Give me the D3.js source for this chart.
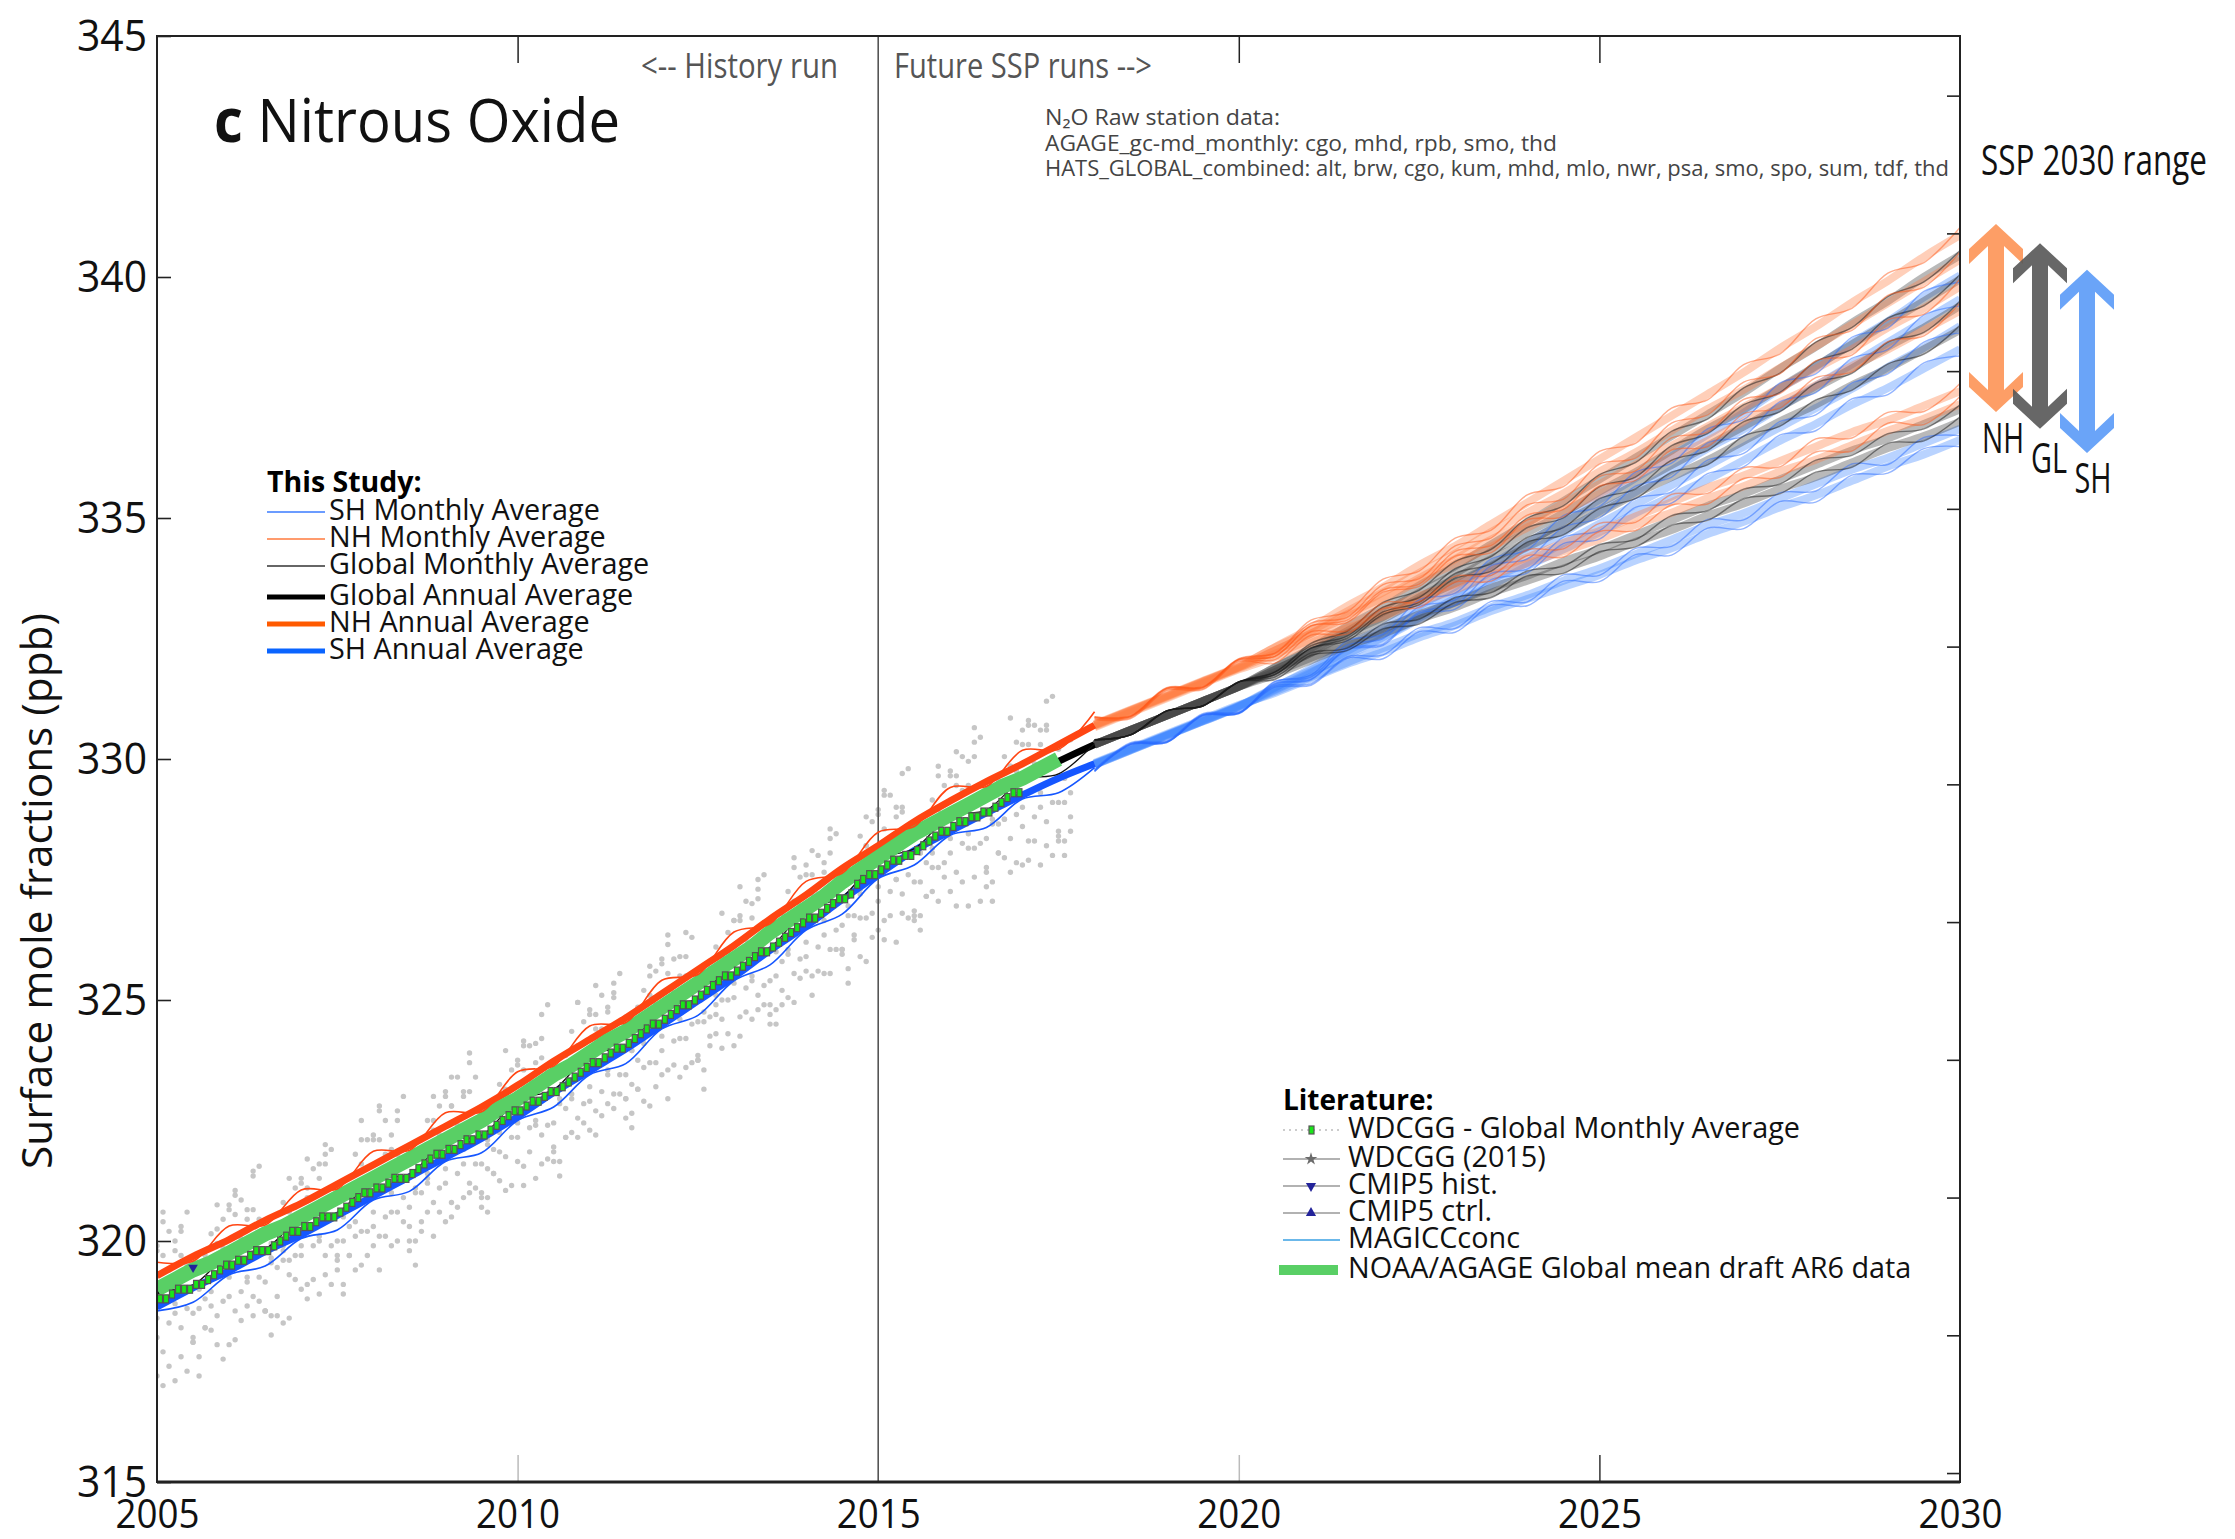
<!DOCTYPE html>
<html>
<head>
<meta charset="utf-8">
<script src="https://cdnjs.cloudflare.com/ajax/libs/d3/7.8.5/d3.min.js"></script>
<style>
  body { margin: 0; background: #fff; }
  svg text { font-family: "Open Sans", Lato, sans-serif; }
</style>
</head>
<body>
<svg id="chart" width="2235" height="1539"></svg>
<script>
// ---- axes
var xTickYears = [2005, 2010, 2015, 2020, 2025, 2030]
var yTickValues = [315, 320, 325, 330, 335, 340, 345]
var innerXTicks = [2010, 2020, 2025]
var rightTicks = [0, 1, 2, 3, 4, 5, 6, 7, 8, 9, 10]

// ---- NOAA/AGAGE global mean (green band), quarterly from 2005.0
var noaaStart = 2005, noaaStep = 0.25
var noaaGlobal = [
  319.0, 319.2, 319.4, 319.55,  319.75, 319.95, 320.15, 320.3,
  320.5, 320.7, 320.9, 321.1,   321.3, 321.5, 321.7, 321.9,
  322.1, 322.3, 322.5, 322.75,  322.95, 323.2, 323.45, 323.65,
  323.9, 324.15, 324.35, 324.6, 324.85, 325.1, 325.35, 325.6,
  325.85, 326.1, 326.4, 326.65, 326.9, 327.15, 327.45, 327.7,
  327.95, 328.2, 328.45, 328.65, 328.85, 329.05, 329.25, 329.45,
  329.6, 329.8, 330.0
]

// ---- raw station data, deviation from the global mean (tenths of ppb), one value per quarter
var stationDev = {
  alt: [9,8,2,6, 10,7,1,5, 8,9,2,7, 9,7,0,6, 10,8,2,5, 8,9,1,7, 9,7,3,6, 10,8,1,5, 8,9,2,6, 9,7,0,7, 10,8,2,5, 9,9,1,6, 10,8,2],
  brw: [7,10,-3,4, 8,7,-2,3, 6,9,-4,5, 8,10,-3,4, 7,8,-5,3, 6,10,-3,4, 8,9,-4,5, 7,8,-2,3, 8,10,-4,4, 7,9,-3,5, 6,8,-4,3, 8,10,-3,4, 7,9,-4],
  mhd: [12,14,3,9, 11,16,4,8, 10,12,2,10, 12,15,4,9, 13,11,3,8, 11,17,4,9, 12,14,5,10, 10,12,3,8, 12,15,4,9, 11,13,2,10, 13,16,4,8, 12,14,3,9, 11,15,4],
  thd: [8,6,-14,-3, 9,5,-16,-4, 7,6,-12,-3, 8,4,-17,-5, 9,7,-15,-4, 7,5,-18,-3, 8,6,-14,-4, 9,4,-16,-5, 8,6,-17,-3, 7,5,-15,-4, 9,6,-18,-5, 8,4,-16,-4, 7,5,-17],
  nwr: [16,5,-8,7, 12,14,-6,-7, 4,11,-9,10, 14,3,-7,6, 7,16,-10,4, 11,6,-6,13, 5,10,-11,9, 15,4,-8,-6, 9,12,-9,11, 3,14,-7,5, 13,7,-10,10, 6,16,-6,4, 11,8,-9],
  mlo: [4,3,-6,3, 3,5,-7,4, 4,2,-6,2, 5,4,-7,3, 3,4,-6,4, 4,3,-7,2, 5,4,-6,3, 3,2,-7,4, 4,5,-6,3, 3,4,-7,2, 4,3,-6,4, 5,4,-6,3, 3,4,-7],
  kum: [-6,-5,-9,-6, -5,-7,-10,-5, -6,-6,-9,-7, -7,-5,-10,-6, -6,-4,-9,-5, -5,-7,-10,-6, -7,-6,-9,-5, -6,-5,-8,-7, -5,-6,-10,-6, -7,-5,-9,-5, -6,-7,-10,-6, -5,-6,-9,-7, -6,-5,-9],
  sum: [14,11,-4,12, 13,15,-5,10, 12,13,-3,14, 15,12,-6,11, 13,14,-4,12, 12,15,-5,13, 14,12,-4,11, 13,13,-6,12, 15,14,-3,13, 12,12,-5,11, 14,15,-4,12, 13,13,-5,14, 12,14,-4],
  rpb: [-7,-6,-12,-8, -8,-7,-13,-6, -6,-8,-12,-9, -8,-6,-13,-8, -7,-7,-11,-6, -6,-8,-13,-8, -8,-7,-12,-9, -7,-6,-13,-6, -6,-8,-12,-8, -8,-7,-11,-9, -7,-6,-13,-8, -6,-8,-12,-6, -8,-7,-12],
  smo: [-10,-7,-15,-9, -9,-8,-16,-7, -8,-7,-15,-10, -10,-9,-14,-7, -9,-7,-16,-9, -8,-8,-15,-7, -10,-7,-14,-10, -9,-9,-16,-9, -8,-7,-15,-7, -10,-8,-14,-10, -9,-7,-16,-9, -8,-9,-15,-7, -10,-8,-15],
  cgo: [-13,-10,-18,-11, -12,-11,-17,-10, -14,-10,-18,-9, -12,-9,-17,-11, -13,-11,-16,-10, -14,-10,-18,-11, -12,-11,-17,-9, -13,-9,-18,-10, -12,-10,-16,-11, -14,-11,-18,-10, -13,-10,-17,-9, -12,-9,-18,-11, -13,-11,-17],
  spo: [-16,-19,-12,-20, -14,-12,-17,-11, -13,-16,-12,-14, -12,-11,-15,-13, -14,-12,-11,-16, -11,-15,-13,-12, -13,-11,-12,-14, -12,-14,-11,-13, -11,-12,-15,-12, -13,-11,-12,-14, -12,-15,-13,-11, -14,-20,-12,-16, -13,-18,-15],
  tdf: [-18,-21,-15,-14, -19,-13,-16,-20, -15,-18,-13,-17, -14,-16,-19,-13, -17,-14,-18,-15, -13,-19,-16,-14, -16,-13,-18,-17, -14,-17,-15,-13, -18,-15,-19,-16, -13,-16,-14,-18, -15,-20,-17,-14, -16,-21,-19,-15, -18,-20,-16],
  psa: [-20,-16,-22,-17, -18,-15,-21,-19, -17,-14,-20,-16, -19,-15,-22,-18, -16,-13,-19,-17, -18,-16,-21,-15, -17,-14,-20,-18, -19,-15,-22,-16, -16,-13,-19,-17, -18,-16,-21,-19, -17,-14,-20,-16, -19,-15,-22,-18, -17,-16,-20]
}
// month within each quarter at which a station is sampled
var stationMonth = {alt: 0, brw: 1, mhd: 2, thd: 0, nwr: 1, mlo: 2, kum: 0, sum: 1, rpb: 2, smo: 0, cgo: 1, spo: 2, tdf: 0, psa: 1}

// ---- WDCGG global monthly average, monthly from Jan 2005
var wdcggStart = 2005, wdcggStep = 1 / 12
var wdcggMonthly = [
  318.8, 318.8, 318.9, 319.0, 319.0, 319.0, 319.1, 319.1, 319.2, 319.3, 319.4, 319.5,
  319.5, 319.6, 319.6, 319.7, 319.8, 319.8, 319.8, 319.9, 320.0, 320.1, 320.2, 320.2,
  320.3, 320.3, 320.4, 320.5, 320.5, 320.5, 320.6, 320.7, 320.8, 320.9, 321.0, 321.0,
  321.1, 321.1, 321.2, 321.3, 321.3, 321.3, 321.4, 321.5, 321.6, 321.7, 321.8, 321.8,
  321.9, 321.9, 322.0, 322.1, 322.1, 322.2, 322.2, 322.3, 322.4, 322.5, 322.6, 322.7,
  322.7, 322.8, 322.9, 322.9, 323.0, 323.1, 323.1, 323.2, 323.3, 323.4, 323.5, 323.6,
  323.7, 323.7, 323.8, 323.9, 324.0, 324.0, 324.1, 324.2, 324.3, 324.4, 324.5, 324.5,
  324.6, 324.7, 324.8, 324.9, 324.9, 325.0, 325.1, 325.2, 325.3, 325.4, 325.5, 325.5,
  325.6, 325.7, 325.8, 325.9, 326.0, 326.0, 326.1, 326.2, 326.3, 326.4, 326.5, 326.6,
  326.7, 326.7, 326.8, 326.9, 327.0, 327.1, 327.1, 327.2, 327.4, 327.5, 327.6, 327.6,
  327.7, 327.8, 327.9, 327.9, 328.0, 328.0, 328.1, 328.2, 328.3, 328.4, 328.5, 328.5,
  328.6, 328.7, 328.7, 328.8, 328.8, 328.9, 328.9, 329.0, 329.1, 329.2, 329.3, 329.3
]
var cmip5Hist = [[2005.5, 319.45]]

// ---- this study, history run: half-yearly means 2005.0 - 2018.0
var histStart = 2005, histStep = 0.5
var histNH = [319.28, 319.68, 320.03, 320.43, 320.78, 321.18, 321.58, 321.98, 322.38, 322.78, 323.23, 323.73, 324.18, 324.63,
              325.13, 325.63, 326.13, 326.68, 327.18, 327.73, 328.2, 328.7, 329.13, 329.53, 329.9, 330.3, 330.7]
var histGL = [318.95, 319.35, 319.7, 320.1, 320.45, 320.85, 321.25, 321.65, 322.05, 322.45, 322.9, 323.4, 323.85, 324.3,
              324.8, 325.3, 325.8, 326.35, 326.85, 327.4, 327.9, 328.4, 328.8, 329.2, 329.55, 329.95, 330.3]
var histSH = [318.63, 319.03, 319.38, 319.78, 320.13, 320.53, 320.93, 321.33, 321.73, 322.13, 322.58, 323.08, 323.53, 323.98,
              324.48, 324.98, 325.48, 326.03, 326.53, 327.08, 327.6, 328.1, 328.5, 328.88, 329.25, 329.6, 329.9]
// seasonal anomaly at the start / middle of each year (monthly curves)
var seasonNH = [0.28, -0.1]
var seasonGL = [0.02, -0.26]
var seasonSH = [-0.08, -0.3]
var seasonFutNH = [0.16, -0.12]
var seasonFutGL = [0.1, -0.1]
var seasonFutSH = [-0.14, 0.12]

// ---- future SSP runs: global half-yearly means 2018.0 - 2030.0
var scenStart = 2018, scenStep = 0.5
var scenGL = [
  [330.3, 330.6, 330.9, 331.2, 331.5, 331.9, 332.3, 332.75, 333.15, 333.6, 334.0, 334.45, 334.9, 335.35, 335.8, 336.25, 336.7, 337.15, 337.6, 338.1, 338.55, 339.05, 339.5, 340.0, 340.45],
  [330.3, 330.6, 330.9, 331.2, 331.5, 331.9, 332.25, 332.65, 333.05, 333.45, 333.85, 334.3, 334.7, 335.1, 335.55, 335.95, 336.4, 336.85, 337.25, 337.7, 338.15, 338.6, 339.05, 339.5, 339.95],
  [330.3, 330.6, 330.9, 331.2, 331.5, 331.85, 332.2, 332.6, 332.95, 333.35, 333.75, 334.15, 334.5, 334.9, 335.3, 335.7, 336.1, 336.5, 336.9, 337.3, 337.7, 338.1, 338.55, 338.95, 339.4],
  [330.3, 330.6, 330.9, 331.2, 331.5, 331.85, 332.2, 332.55, 332.9, 333.3, 333.65, 334.0, 334.4, 334.75, 335.1, 335.5, 335.85, 336.2, 336.6, 337.0, 337.35, 337.75, 338.1, 338.5, 338.9],
  [330.3, 330.6, 330.9, 331.2, 331.5, 331.8, 332.1, 332.4, 332.7, 333.0, 333.25, 333.55, 333.8, 334.1, 334.35, 334.65, 334.95, 335.25, 335.5, 335.8, 336.1, 336.4, 336.65, 336.95, 337.25],
  [330.3, 330.6, 330.9, 331.2, 331.5, 331.75, 332.05, 332.35, 332.6, 332.9, 333.15, 333.45, 333.7, 333.95, 334.2, 334.5, 334.75, 335.05, 335.3, 335.6, 335.85, 336.15, 336.45, 336.7, 337.0]
]
// interhemispheric offsets per scenario (NH - GL, SH - GL)
var scenNHoff = [0.42, 0.41, 0.4, 0.4, 0.38, 0.36]
var scenSHoff = [-0.42, -0.41, -0.42, -0.4, -0.4, -0.38]

// ---- SSP 2030 range arrows
var sspRegions = ["NH", "GL", "SH"]
var sspLow = [337.2, 336.85, 336.35]
var sspHigh = [341.1, 340.7, 340.15]

var studyLabels = ["SH Monthly Average", "NH Monthly Average", "Global Monthly Average",
                   "Global Annual Average", "NH Annual Average", "SH Annual Average"]
var litLabels = ["WDCGG - Global Monthly Average", "WDCGG (2015)", "CMIP5 hist.", "CMIP5 ctrl.",
                 "MAGICCconc", "NOAA/AGAGE Global mean draft AR6 data"]
var stationText = ["N\u2082O Raw station data:",
  "AGAGE_gc-md_monthly: cgo, mhd, rpb, smo, thd",
  "HATS_GLOBAL_combined: alt, brw, cgo, kum, mhd, mlo, nwr, psa, smo, spo, sum, tdf, thd"]

// colours
var cNH = "#ff4512", cSH = "#1556ff", cGreen = "#59cf65"

const W = 2235, H = 1539
const margin = {top: 36, right: 275, bottom: 57, left: 157}
const svg = d3.select("#chart")

const x = d3.scaleLinear().domain([2005, 2030]).range([margin.left, W - margin.right])
const y = d3.scaleLinear().domain([315, 345]).range([H - margin.bottom, margin.top])
const yRight = d3.scaleLinear().domain([-0.065, 10.433]).range([H - margin.bottom, margin.top])

svg.append("defs").append("clipPath").attr("id", "plotclip")
  .append("rect")
  .attr("x", x(2005)).attr("y", y(345))
  .attr("width", x(2030) - x(2005)).attr("height", y(315) - y(345))

const plot = svg.append("g").attr("clip-path", "url(#plotclip)")

const smooth = d3.line().x(d => x(d[0])).y(d => y(d[1])).curve(d3.curveMonotoneX)
const wiggle = d3.line().x(d => x(d[0])).y(d => y(d[1])).curve(d3.curveCatmullRom.alpha(0.5))
const straight = d3.line().x(d => x(d[0])).y(d => y(d[1]))

// condensed look: squeeze text to the width it has in the figure
function squeeze(sel, width) {
  sel.attr("textLength", width).attr("lengthAdjust", "spacingAndGlyphs")
}

// raw station dots
var noaaTimes = noaaGlobal.map((v, i) => noaaStart + i * noaaStep)
var dots = []
Object.keys(stationDev).forEach(function(st) {
  stationDev[st].forEach(function(d, i) {
    dots.push([noaaTimes[i] + stationMonth[st] / 12, noaaGlobal[i] + d / 10])
  })
})
plot.append("g").selectAll("circle").data(dots).join("circle")
  .attr("cx", d => x(d[0])).attr("cy", d => y(d[1]))
  .attr("r", 2.7).attr("fill", "#c6c6c6")

// history / future split
plot.append("line")
  .attr("x1", x(2015)).attr("x2", x(2015)).attr("y1", y(345)).attr("y2", y(315))
  .attr("stroke", "#555").attr("stroke-width", 1.6)

// future SSP runs
var scenTimes = scenGL[0].map((v, i) => scenStart + i * scenStep)
function scenSeries(k, off, season) {
  return scenGL[k].map((v, i) => [scenTimes[i], v + off + (season ? season[i % 2] : 0)])
}
var fut = plot.append("g")
scenGL.forEach(function(s, k) {
  fut.append("path").attr("d", smooth(scenSeries(k, scenNHoff[k])))
    .attr("fill", "none").attr("stroke", "#ff7a3c").attr("stroke-opacity", 0.36).attr("stroke-width", 8)
  fut.append("path").attr("d", smooth(scenSeries(k, 0)))
    .attr("fill", "none").attr("stroke", "#3c3c3c").attr("stroke-opacity", 0.36).attr("stroke-width", 8)
  fut.append("path").attr("d", smooth(scenSeries(k, scenSHoff[k])))
    .attr("fill", "none").attr("stroke", "#3d85ff").attr("stroke-opacity", 0.36).attr("stroke-width", 8)
})
scenGL.forEach(function(s, k) {
  fut.append("path").attr("d", wiggle(scenSeries(k, scenNHoff[k], seasonFutNH)))
    .attr("fill", "none").attr("stroke", "#ff5a1a").attr("stroke-opacity", 0.5).attr("stroke-width", 1.4)
  fut.append("path").attr("d", wiggle(scenSeries(k, 0, seasonFutGL)))
    .attr("fill", "none").attr("stroke", "#1a1a1a").attr("stroke-opacity", 0.5).attr("stroke-width", 1.4)
  fut.append("path").attr("d", wiggle(scenSeries(k, scenSHoff[k], seasonFutSH)))
    .attr("fill", "none").attr("stroke", "#2a6cff").attr("stroke-opacity", 0.5).attr("stroke-width", 1.4)
})

// history run, annual averages
var histTimes = histNH.map((v, i) => histStart + i * histStep)
function histSeries(arr, season) {
  return arr.map((v, i) => [histTimes[i], v + (season ? season[i % 2] : 0)])
}
plot.append("path").attr("d", smooth(histSeries(histGL))).attr("fill", "none").attr("stroke", "#000").attr("stroke-width", 7)
plot.append("path").attr("d", smooth(histSeries(histSH))).attr("fill", "none").attr("stroke", cSH).attr("stroke-width", 7)
plot.append("path").attr("d", smooth(histSeries(histNH))).attr("fill", "none").attr("stroke", cNH).attr("stroke-width", 7)
plot.append("path").attr("d", wiggle(histSeries(histGL, seasonGL))).attr("fill", "none").attr("stroke", "#111").attr("stroke-width", 1.3)

// NOAA/AGAGE global mean
plot.append("path").attr("d", straight(noaaGlobal.map((v, i) => [noaaTimes[i], v])))
  .attr("fill", "none").attr("stroke", cGreen).attr("stroke-width", 15)

// monthly curves
plot.append("path").attr("d", wiggle(histSeries(histNH, seasonNH))).attr("fill", "none").attr("stroke", cNH).attr("stroke-width", 1.6)
plot.append("path").attr("d", wiggle(histSeries(histSH, seasonSH))).attr("fill", "none").attr("stroke", cSH).attr("stroke-width", 1.6)

// WDCGG monthly markers
var wdcgg = wdcggMonthly.map((v, i) => [wdcggStart + (i + 0.5) * wdcggStep, v])
plot.append("path").attr("d", straight(wdcgg)).attr("fill", "none")
  .attr("stroke", "#888").attr("stroke-width", 1).attr("stroke-dasharray", "2,3")
plot.append("g").selectAll("rect").data(wdcgg).join("rect")
  .attr("x", d => x(d[0]) - 2.5).attr("y", d => y(d[1]) - 4)
  .attr("width", 5).attr("height", 8)
  .attr("fill", "#19e619").attr("stroke", "#555").attr("stroke-width", 1.2)
plot.append("g").selectAll("path").data(cmip5Hist).join("path")
  .attr("transform", d => `translate(${x(d[0])},${y(d[1])}) rotate(180)`)
  .attr("d", d3.symbol(d3.symbolTriangle, 40)).attr("fill", "#23239a")

// ---- axes
svg.append("g").attr("transform", `translate(${x(2005)},0)`)
  .call(d3.axisLeft(y).tickValues(yTickValues).tickSize(-14).tickPadding(10).tickFormat(d3.format("d")))
  .call(g => g.select(".domain").remove())
  .call(g => g.selectAll("line").attr("stroke", "#222").attr("stroke-width", 1.6))
  .call(g => g.selectAll("text").attr("font-size", 44).attr("fill", "#111").call(squeeze, 70))
svg.append("g").attr("transform", `translate(0,${y(315)})`)
  .call(d3.axisBottom(x).tickValues(xTickYears).tickSize(0).tickPadding(17).tickFormat(d3.format("d")))
  .call(g => g.select(".domain").remove())
  .call(g => g.selectAll("text").attr("font-size", 41).attr("fill", "#111").call(squeeze, 84))
svg.append("g").attr("transform", `translate(0,${y(315)})`)
  .call(d3.axisBottom(x).tickValues(innerXTicks).tickSize(-27).tickFormat(""))
  .call(g => g.select(".domain").remove())
  .call(g => g.selectAll("line").attr("stroke", d => d === 2025 ? "#333" : "#bbb").attr("stroke-width", 1.5))
svg.append("g").attr("transform", `translate(0,${y(345)})`)
  .call(d3.axisTop(x).tickValues(innerXTicks).tickSize(-27).tickFormat(""))
  .call(g => g.select(".domain").remove())
  .call(g => g.selectAll("line").attr("stroke", "#222").attr("stroke-width", 1.5))
svg.append("g").attr("transform", `translate(${x(2030)},0)`)
  .call(d3.axisRight(yRight).tickValues(rightTicks).tickSize(-13).tickFormat(""))
  .call(g => g.select(".domain").remove())
  .call(g => g.selectAll("line").attr("stroke", "#222").attr("stroke-width", 1.6))

// frame
svg.append("rect")
  .attr("x", x(2005)).attr("y", y(345))
  .attr("width", x(2030) - x(2005)).attr("height", y(315) - y(345))
  .attr("fill", "none").attr("stroke", "#222").attr("stroke-width", 2)
svg.append("line").attr("x1", x(2005)).attr("x2", x(2030)).attr("y1", y(315)).attr("y2", y(315))
  .attr("stroke", "#222").attr("stroke-width", 3)

// axis title
svg.append("text")
  .attr("transform", "translate(52,891) rotate(-90)")
  .attr("text-anchor", "middle").attr("font-size", 42).attr("fill", "#111")
  .call(squeeze, 556)
  .text("Surface mole fractions (ppb)")

// title
var title = svg.append("text").attr("x", 214).attr("y", 142).attr("font-size", 60).attr("fill", "#111")
  .call(squeeze, 406)
title.append("tspan").attr("font-weight", 700).text("c")
title.append("tspan").text(" Nitrous Oxide")

// run labels
svg.append("text").attr("x", 838).attr("y", 78).attr("text-anchor", "end")
  .attr("font-size", 34).attr("fill", "#555").call(squeeze, 197)
  .text("<-- History run")
svg.append("text").attr("x", 894).attr("y", 78)
  .attr("font-size", 34).attr("fill", "#555").call(squeeze, 258)
  .text("Future SSP runs -->")

// station note
var noteWidths = [235, 512, 904]
stationText.forEach(function(t, i) {
  svg.append("text").attr("x", 1045).attr("y", 125 + i * 25.5)
    .attr("font-size", 22).attr("fill", "#444")
    .call(squeeze, noteWidths[i])
    .text(t)
})

// SSP 2030 range (scaled horizontally so its box stays inside the page)
var sspTitle = svg.append("text").attr("font-size", 42).attr("fill", "#111").text("SSP 2030 range")
var sspNatural = sspTitle.node().getComputedTextLength()
sspTitle.attr("transform", `translate(1981,175) scale(${226 / sspNatural},1)`)

var arrowX = [1996, 2040, 2087]
var arrowFill = ["#fd9355", "#575757", "#5a9af7"]
var labelX = [2003, 2049, 2093]
var labelY = [453, 473, 493]
var labelW = [42, 36, 37]
function arrowPath(cx, top, bot) {
  var p = [[cx, top], [cx + 27, top + 25], [cx + 27, top + 40], [cx + 8, top + 22],
           [cx + 8, bot - 22], [cx + 27, bot - 40], [cx + 27, bot - 25], [cx, bot],
           [cx - 27, bot - 25], [cx - 27, bot - 40], [cx - 8, bot - 22],
           [cx - 8, top + 22], [cx - 27, top + 40], [cx - 27, top + 25]]
  return "M" + p.map(q => q.join(",")).join("L") + "Z"
}
sspRegions.forEach(function(r, i) {
  svg.append("path").attr("d", arrowPath(arrowX[i], y(sspHigh[i]), y(sspLow[i])))
    .attr("fill", arrowFill[i]).attr("fill-opacity", 0.9)
})
sspRegions.forEach(function(r, i) {
  svg.append("text").attr("x", labelX[i]).attr("y", labelY[i])
    .attr("text-anchor", "middle").attr("font-size", 42).attr("fill", "#111")
    .call(squeeze, labelW[i]).text(r)
})

// ---- legend: this study
var studyColor = ["#3a7bff", "#ff7a3d", "#333", "#000", "#ff5a00", "#0a64ff"]
var studyWidth = [1.5, 1.5, 1.5, 5, 5, 5]
var studyRowY = [512, 539, 566, 597, 624, 651]
var leg1 = svg.append("g")
leg1.append("text").attr("x", 267).attr("y", 492).attr("font-size", 28.5).attr("font-weight", 700).attr("fill", "#000").text("This Study:")
studyLabels.forEach(function(t, i) {
  leg1.append("line").attr("x1", 267).attr("x2", 325).attr("y1", studyRowY[i]).attr("y2", studyRowY[i])
    .attr("stroke", studyColor[i]).attr("stroke-width", studyWidth[i])
  leg1.append("text").attr("x", 329).attr("y", studyRowY[i] + 8).attr("font-size", 28.8).attr("fill", "#111").text(t)
})

// ---- legend: literature
var litRowY = [1130, 1159, 1186, 1213, 1240, 1270]
var leg2 = svg.append("g")
leg2.append("text").attr("x", 1283).attr("y", 1110).attr("font-size", 28).attr("font-weight", 700).attr("fill", "#000").text("Literature:")
litLabels.forEach(function(t, i) {
  var ly = litRowY[i]
  if (i === 0) {
    leg2.append("line").attr("x1", 1283).attr("x2", 1340).attr("y1", ly).attr("y2", ly)
      .attr("stroke", "#999").attr("stroke-width", 1.2).attr("stroke-dasharray", "2,4")
    leg2.append("rect").attr("x", 1309).attr("y", ly - 4).attr("width", 5).attr("height", 8)
      .attr("fill", "#19e619").attr("stroke", "#555").attr("stroke-width", 1.2)
  } else if (i < 4) {
    leg2.append("line").attr("x1", 1283).attr("x2", 1340).attr("y1", ly).attr("y2", ly)
      .attr("stroke", "#999").attr("stroke-width", 1.5)
    var sym = i === 1 ? d3.symbol(d3.symbolStar, 50) : d3.symbol(d3.symbolTriangle, 45)
    leg2.append("path").attr("d", sym)
      .attr("transform", `translate(1311,${ly}) rotate(${i === 2 ? 180 : 0})`)
      .attr("fill", i === 1 ? "#6b6b6b" : "#23239a")
  } else if (i === 4) {
    leg2.append("line").attr("x1", 1283).attr("x2", 1340).attr("y1", ly).attr("y2", ly)
      .attr("stroke", "#6bb8ea").attr("stroke-width", 2)
  } else {
    leg2.append("line").attr("x1", 1279).attr("x2", 1338).attr("y1", ly).attr("y2", ly)
      .attr("stroke", cGreen).attr("stroke-width", 10)
  }
  leg2.append("text").attr("x", 1348).attr("y", ly + 8).attr("font-size", 28.8).attr("fill", "#111").text(t)
})
</script>
</body>
</html>
